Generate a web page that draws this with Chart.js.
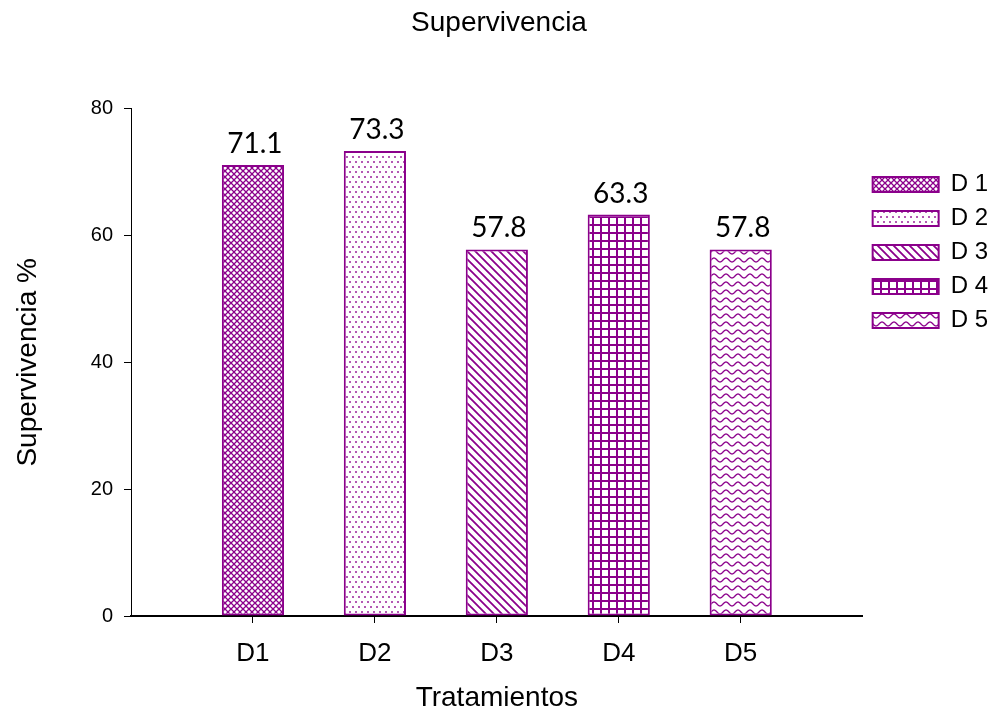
<!DOCTYPE html>
<html>
<head>
<meta charset="utf-8">
<script src="https://cdn.jsdelivr.net/npm/chart.js@4.4.1/dist/chart.umd.min.js"></script>
<style>
  html, body { margin: 0; padding: 0; background: #ffffff; }
  #wrap { width: 998px; height: 715px; }
</style>
</head>
<body>
<div id="wrap"><canvas id="c" width="998" height="715"></canvas></div>
<script>
// Treatments on the x axis and survival (%) per treatment
const categories = ['D1', 'D2', 'D3', 'D4', 'D5'];
const seriesNames = ['D 1', 'D 2', 'D 3', 'D 4', 'D 5'];
const survival = [71.1, 73.3, 57.8, 63.3, 57.8];
const yTicks = [0, 20, 40, 60, 80];

const PURPLE = '#8b008b';
const SANS = '"Liberation Sans", Arial, sans-serif';

// Hatch fills, one per treatment
function makePattern(kind) {
  const t = document.createElement('canvas');
  const g = t.getContext('2d');
  let w = 8, h = 8;
  if (kind === 'diamond') { w = 6; h = 6; }
  if (kind === 'dots') { w = 6; h = 10; }
  if (kind === 'wave') { w = 12; h = 8; }
  t.width = w; t.height = h;
  g.fillStyle = '#ffffff';
  g.fillRect(0, 0, w, h);
  g.strokeStyle = PURPLE;
  g.fillStyle = PURPLE;
  if (kind === 'diamond') {
    g.lineWidth = 1.3;
    g.beginPath();
    g.moveTo(-1, -1); g.lineTo(w + 1, h + 1);
    g.moveTo(w + 1, -1); g.lineTo(-1, h + 1);
    g.stroke();
  } else if (kind === 'dots') {
    g.globalAlpha = 0.65;
    g.fillRect(1, 1, 2, 2);
    g.fillRect(4, 6, 2, 2);
  } else if (kind === 'diag') {
    g.lineWidth = 1.8;
    g.beginPath();
    g.moveTo(-2, -2); g.lineTo(w + 2, h + 2);
    g.moveTo(-2 - w, -2); g.lineTo(2, h + 2);
    g.moveTo(w - 2, -2); g.lineTo(2 * w + 2, h + 2);
    g.stroke();
  } else if (kind === 'grid') {
    g.lineWidth = 2;
    g.beginPath();
    g.moveTo(0, 1); g.lineTo(w, 1);
    g.moveTo(1, 0); g.lineTo(1, h);
    g.stroke();
  } else if (kind === 'wave') {
    g.lineWidth = 1.3;
    g.beginPath();
    for (let x = 0; x <= w; x += 0.5) {
      const y = 4 + 2 * Math.cos((x / w) * Math.PI * 2);
      if (x === 0) g.moveTo(x, y); else g.lineTo(x, y);
    }
    g.stroke();
  }
  return g.createPattern(t, 'repeat');
}

const patterns = ['diamond', 'dots', 'diag', 'grid', 'wave'].map(makePattern);

// Empty slots either side give the axis its margin around D1 and D5
const xLabels = [''].concat(categories, ['']);

const datasets = seriesNames.map((name, i) => ({
  label: name,
  data: xLabels.map((lab, j) => (j === i + 1 ? survival[i] : null)),
  backgroundColor: patterns[i],
  borderColor: PURPLE,
  borderWidth: 2,
  borderSkipped: false,
  grouped: false,
  barPercentage: 1,
  categoryPercentage: 0.51
}));

// Value printed above each bar
const valueLabels = {
  id: 'valueLabels',
  afterDatasetsDraw(chart) {
    const ctx = chart.ctx;
    ctx.save();
    ctx.font = '28px Lato, "Open Sans", sans-serif';
    ctx.fillStyle = '#000';
    ctx.textAlign = 'center';
    ctx.textBaseline = 'alphabetic';
    chart.data.datasets.forEach((ds, i) => {
      const meta = chart.getDatasetMeta(i);
      meta.data.forEach((bar, j) => {
        const v = ds.data[j];
        if (v == null) return;
        ctx.fillText(v.toFixed(1), bar.x + 2, bar.y - 12);
      });
    });
    ctx.restore();
  }
};

new Chart(document.getElementById('c'), {
  type: 'bar',
  data: { labels: xLabels, datasets },
  plugins: [valueLabels],
  options: {
    responsive: false,
    animation: false,
    devicePixelRatio: 1,
    layout: { padding: { left: 0, right: 0, top: 0, bottom: 0 } },
    plugins: {
      title: {
        display: true,
        text: 'Supervivencia',
        color: '#000',
        font: { family: SANS, size: 28, weight: 'normal' },
        padding: { top: 6, bottom: 69 }
      },
      legend: {
        display: true,
        position: 'right',
        align: 'start',
        title: { display: true, text: '', font: { size: 12 }, padding: { top: 148, bottom: 0 } },
        labels: {
          boxWidth: 66,
          boxHeight: 15,
          padding: 10,
          color: '#000',
          font: { family: SANS, size: 24 }
        }
      },
      tooltip: { enabled: false }
    },
    scales: {
      x: {
        offset: false,
        border: { display: true, color: '#000', width: 2 },
        grid: {
          display: true,
          offset: false,
          drawOnChartArea: false,
          tickLength: 7,
          tickColor: (c) => (c.tick && c.tick.label === '' ? 'rgba(0,0,0,0)' : '#000')
        },
        ticks: {
          color: '#000',
          font: { family: SANS, size: 26 },
          padding: 15,
          autoSkip: false,
          maxRotation: 0
        },
        title: {
          display: true,
          text: 'Tratamientos',
          color: '#000',
          font: { family: SANS, size: 28 },
          padding: { top: 10, bottom: 0 }
        },
        afterFit: (s) => { s.height = 99; }
      },
      y: {
        min: 0,
        max: 80,
        afterBuildTicks: (s) => { s.ticks = yTicks.map(v => ({ value: v })); },
        border: { display: true, color: '#000', width: 1 },
        grid: { display: true, drawOnChartArea: false, tickLength: 7, tickColor: '#000' },
        ticks: {
          color: '#000',
          font: { family: SANS, size: 20 },
          padding: 11
        },
        title: {
          display: true,
          text: 'Supervivencia %',
          color: '#000',
          font: { family: SANS, size: 28 },
          padding: { top: 11, bottom: 10 }
        },
        afterFit: (s) => { s.width = 131; }
      }
    }
  }
});
</script>
</body>
</html>
